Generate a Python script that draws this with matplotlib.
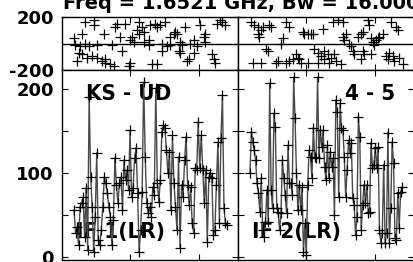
import numpy as np
import matplotlib
matplotlib.use('Agg')
import matplotlib.pyplot as plt
from matplotlib.ticker import MultipleLocator

title_text = 'Freq = 1.6521 GHz, Bw = 16.000 MHz'
source_label = 'KS - UD'
baseline_label = '4 - 5'
if_labels = ['IF 1(LR)', 'IF 2(LR)']

# amplitude, sampled evenly between first and last time
amp_if1 = [56, 29, 36, 14, 60, 64, 71, 24, 82, 8, 190, 95, 60, 6, 48, 124, 20, 14, 32, 60,
           95, 88, 76, 60, 48, 14, 44, 118, 86, 64, 88, 95, 56, 115, 92, 104, 80, 151, 71, 82,
           118, 130, 76, 6, 32, 77, 208, 119, 64, 52, 60, 48, 83, 74, 201, 88, 66, 92, 149, 157,
           154, 127, 100, 125, 56, 145, 88, 60, 32, 119, 11, 86, 71, 115, 143, 86, 62, 83, 40, 29,
           106, 104, 161, 106, 145, 104, 64, 104, 18, 95, 100, 94, 26, 32, 86, 137, 40, 142, 193, 58,
           40, 38]
amp_if2 = [100, 149, 137, 127, 115, 88, 76, 54, 94, 32, 24, 42, 80, 42, 207, 80, 58, 171, 155, 58,
           54, 32, 52, 115, 94, 74, 52, 133, 88, 88, 74, 214, 165, 100, 56, 86, 56, 83, 6, 40,
           2, 86, 127, 119, 94, 154, 119, 118, 214, 118, 151, 131, 151, 107, 92, 133, 94, 125, 107, 118,
           50, 187, 173, 71, 183, 154, 151, 119, 71, 104, 139, 124, 136, 70, 62, 26, 48, 167, 143, 32,
           62, 86, 64, 86, 52, 54, 136, 106, 110, 130, 106, 131, 32, 17, 29, 110, 17, 29, 148, 17,
           58, 137, 112, 23, 20, 76, 35, 77, 83]
amp_span_if1 = (12, 165)
amp_span_if2 = (12, 164)

# phase points
t_ph1 = [12, 13, 15, 17, 18, 20, 20, 23, 23, 25, 27, 30, 32, 32, 35, 35, 40, 42, 43, 43,
         48, 50, 52, 53, 55, 58, 60, 63, 67, 68, 68, 70, 72, 75, 77, 77, 80, 82, 82, 87,
         87, 88, 90, 93, 95, 95, 98, 100, 100, 103, 105, 108, 108, 112, 113, 115, 117, 118, 118, 120,
         123, 125, 127, 128, 132, 132, 135, 138, 142, 143, 143, 150, 152, 153, 155, 158, 160, 163]
ph1 = [38, -8, -135, -75, -22, 75, -82, 165, 0, -112, -22, -98, 180, 142, -8, -112, -135, 68, -120, -150,
       -158, -8, -172, 128, 150, 52, -60, 150, -172, -150, 30, 52, 15, 105, 165, 68, 128, 90, 15, 30,
       -8, 142, -158, 150, -158, 128, 142, 0, -60, 165, -22, -8, 52, 75, 90, 68, -60, 15, -75, -8,
       128, -135, -120, 0, 30, -75, -22, 142, 52, 75, 15, -82, -120, -150, 150, 180, 165, 142]
t_ph2 = [13, 15, 16, 20, 20, 21, 23, 23, 25, 28, 30, 31, 33, 38, 40, 43, 45, 48, 48, 51,
         51, 55, 58, 60, 61, 63, 65, 66, 70, 70, 73, 75, 76, 80, 80, 83, 85, 86, 86, 90,
         91, 93, 95, 96, 98, 100, 103, 105, 105, 106, 108, 111, 113, 115, 116, 120, 123, 123, 125, 125,
         126, 130, 131, 133, 133, 135, 136, 138, 140, 141, 145, 148, 150, 151, 153, 155, 156, 158, 160, 161,
         165]
ph2 = [165, -150, 142, 128, 68, 52, 105, -150, 128, -38, -60, 142, 128, -150, -135, 0, 38, 165, -150, 128,
       -135, -120, -82, -112, -120, -150, 90, 68, -150, 68, 75, 68, -38, -75, -150, -98, 112, -60, -120, -82,
       -150, -112, 165, -82, -135, 180, -158, 165, 52, 30, 75, 0, -22, -60, -82, 52, 75, -120, 90, -60,
       -82, 180, 142, 38, -82, 15, -8, 30, 38, 52, 68, -98, -120, -75, 165, -98, -135, 128, 105, -112,
       -158]

W, H = 413, 262
fig = plt.figure(figsize=(W / 100, H / 100), dpi=100)


def px_axes(x0, y0, x1, y1):
    return fig.add_axes([x0 / W, 1 - y1 / H, (x1 - x0) / W, (y1 - y0) / H])


def style(ax, left_labels):
    ax.set_xlim(0, 176)
    ax.set_xticks([67.5, 137])
    ax.tick_params(axis='both', which='both', direction='in', length=4, width=0.8,
                   top=True, right=True, labelbottom=False, pad=6,
                   labelleft=left_labels, labelsize=13)
    for s in ax.spines.values():
        s.set_linewidth(1.0)


tick_font = {'family': 'DejaVu Sans', 'weight': 'bold', 'size': 13}
label_font = {'family': 'DejaVu Sans', 'weight': 'bold', 'size': 16, 'stretch': 'condensed'}

panels = [(62, amp_if1, amp_span_if1, t_ph1, ph1, source_label, 24, 0),
          (238, amp_if2, amp_span_if2, t_ph2, ph2, baseline_label, 107, 1)]

for x0, amp, span, tph, ph, top_label, top_x, idx in panels:
    ax_ph = px_axes(x0, 17, x0 + 176, 70)
    ax_amp = px_axes(x0, 70, x0 + 176, 260)

    ax_ph.plot(tph, ph, ls='none', marker='+', color='black', ms=6.5, mew=0.9)
    ax_ph.axhline(0, color='black', lw=1.0)
    ax_ph.set_ylim(-200, 200)
    ax_ph.set_yticks([-200, 200])
    ax_ph.set_yticklabels(['-200', '200'], fontdict=tick_font)
    style(ax_ph, idx == 0)

    t_amp = np.linspace(span[0], span[1], len(amp))
    ax_amp.plot(t_amp, amp, color='#4a4a4a', lw=1.0, zorder=3)
    ax_amp.plot(t_amp, amp, ls='none', marker='+', color='black', ms=6.5, mew=0.9, zorder=4)
    ax_amp.set_ylim(-3.6, 222.6)
    ax_amp.yaxis.set_minor_locator(MultipleLocator(50))
    ax_amp.set_yticks([0, 100, 200])
    ax_amp.set_yticklabels(['0', '100', '200'], fontdict=tick_font)
    style(ax_amp, idx == 0)

    ax_amp.text(top_x, 194, top_label, ha='left', va='center', fontdict=label_font, zorder=2)
    ax_amp.text(14, 30, if_labels[idx], ha='left', va='center', fontdict=label_font, zorder=2)

fig.text(63 / W, 1 - 9 / H, title_text, ha='left', va='baseline',
         fontsize=14, fontweight='bold', family='DejaVu Sans')

fig.savefig('out.png', dpi=100)
